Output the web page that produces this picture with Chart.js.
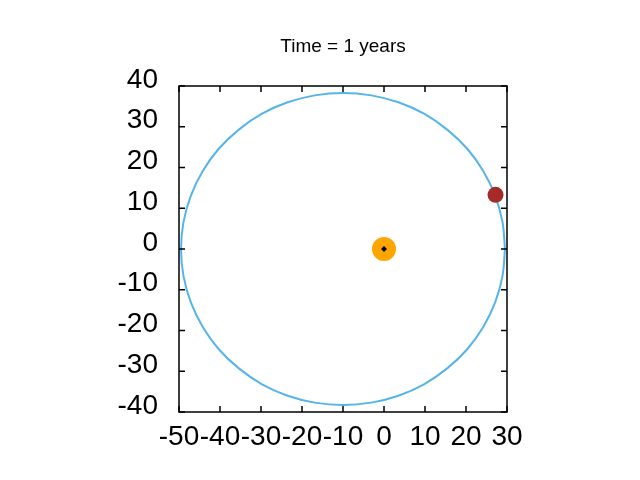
<!DOCTYPE html>
<html lang="en">
<head>
  <meta charset="UTF-8" />
  <title>Time = 1 years</title>
  <script src="https://cdn.jsdelivr.net/npm/chart.js"></script>
  <style>
    body { margin: 0; background: #fff; }
    canvas { display: block; }
  </style>
</head>
<body>
  <canvas id="orbitChart" width="640" height="480"></canvas>

  <script>
    const titleText = 'Time = 1 years';

    // orbit path, every ~10 degrees round the ellipse
    const orbitX = [29.5, 28.9, 27.1, 24.2, 20.3, 15.4, 9.75, 3.5, -3.1, -10, -16.9, -23.5, -29.75, -35.4, -40.3, -44.2, -47.1, -48.9, -49.5,
                    -48.9, -47.1, -44.2, -40.3, -35.4, -29.75, -23.5, -16.9, -10, -3.1, 3.5, 9.75, 15.4, 20.3, 24.2, 27.1, 28.9, 29.5];
    const orbitY = [0, 6.65, 13.1, 19.15, 24.6, 29.3, 33.2, 36.0, 37.7, 38.3, 37.7, 36.0, 33.2, 29.3, 24.6, 19.15, 13.1, 6.65, 0,
                    -6.65, -13.1, -19.15, -24.6, -29.3, -33.2, -36.0, -37.7, -38.3, -37.7, -36.0, -33.2, -29.3, -24.6, -19.15, -13.1, -6.65, 0];

    const sunX = [0];
    const sunY = [0];
    const planetX = [27.2];
    const planetY = [13.3];

    const xTicks = [-50, -40, -30, -20, -10, 0, 10, 20, 30];
    const yTicks = [-40, -30, -20, -10, 0, 10, 20, 30, 40];

    const toPoints = (xs, ys) => xs.map((x, i) => ({ x: x, y: ys[i] }));

    // gnuplot style frame with ticks pointing inward on all four sides, plus the title
    const framePlugin = {
      id: 'frame',
      afterDraw(chart) {
        const ctx = chart.ctx;
        const a = chart.chartArea;
        const xs = chart.scales.x, ys = chart.scales.y;
        const len = 6;
        ctx.save();
        ctx.strokeStyle = '#000';
        ctx.lineWidth = 1.5;
        ctx.strokeRect(a.left, a.top, a.right - a.left, a.bottom - a.top);
        ctx.beginPath();
        xTicks.forEach(v => {
          const px = xs.getPixelForValue(v);
          ctx.moveTo(px, a.bottom); ctx.lineTo(px, a.bottom - len);
          ctx.moveTo(px, a.top); ctx.lineTo(px, a.top + len);
        });
        yTicks.forEach(v => {
          const py = ys.getPixelForValue(v);
          ctx.moveTo(a.left, py); ctx.lineTo(a.left + len, py);
          ctx.moveTo(a.right, py); ctx.lineTo(a.right - len, py);
        });
        ctx.stroke();

        ctx.fillStyle = '#000';
        ctx.font = '19px "Liberation Sans", Arial, sans-serif';
        ctx.textAlign = 'center';
        ctx.textBaseline = 'middle';
        ctx.fillText(titleText, (a.left + a.right) / 2, 47);
        ctx.restore();
      }
    };

    const tickFont = { family: '"Liberation Sans", Arial, sans-serif', size: 28 };

    new Chart(document.getElementById('orbitChart'), {
      type: 'scatter',
      data: {
        datasets: [
          {
            label: 'planet',
            data: toPoints(planetX, planetY),
            backgroundColor: '#a52a2a',
            borderWidth: 0,
            pointRadius: 8
          },
          {
            label: 'sun core',
            data: toPoints(sunX, sunY),
            backgroundColor: '#000',
            borderWidth: 0,
            pointStyle: 'rectRot',
            pointRadius: 3
          },
          {
            label: 'sun',
            data: toPoints(sunX, sunY),
            backgroundColor: '#ffa500',
            borderWidth: 0,
            pointRadius: 12
          },
          {
            label: 'orbit',
            data: toPoints(orbitX, orbitY),
            showLine: true,
            borderColor: '#56b4e9',
            borderWidth: 2,
            pointRadius: 0,
            tension: 0.4,
            fill: false
          }
        ]
      },
      options: {
        responsive: false,
        animation: false,
        layout: { padding: { left: 0, right: 133, top: 86, bottom: 0 } },
        plugins: {
          legend: { display: false },
          tooltip: { enabled: false },
          title: { display: false }
        },
        scales: {
          x: {
            type: 'linear',
            min: -50,
            max: 30,
            afterFit: s => { s.height = 68; },
            afterBuildTicks: s => { s.ticks = xTicks.map(v => ({ value: v })); },
            grid: { display: false, drawTicks: false },
            border: { display: false },
            ticks: { color: '#000', font: tickFont, padding: 8, maxRotation: 0, autoSkip: false }
          },
          y: {
            type: 'linear',
            min: -40,
            max: 40,
            afterFit: s => { s.width = 179; },
            afterBuildTicks: s => { s.ticks = yTicks.map(v => ({ value: v })); },
            grid: { display: false, drawTicks: false },
            border: { display: false },
            ticks: { color: '#000', font: tickFont, padding: 21, labelOffset: -6, autoSkip: false }
          }
        }
      },
      plugins: [framePlugin]
    });
  </script>
</body>
</html>
